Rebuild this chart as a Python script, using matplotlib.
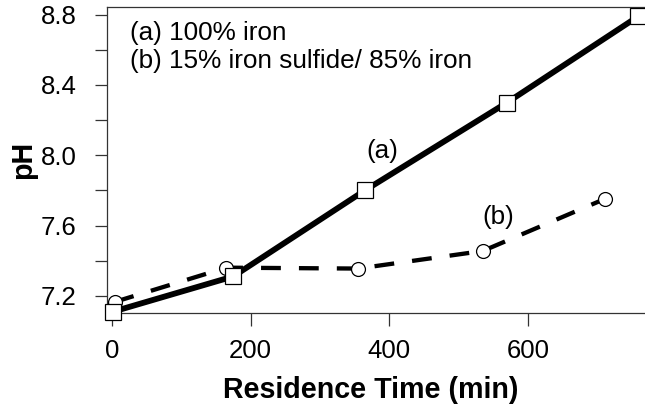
import matplotlib
matplotlib.use("Agg")
import matplotlib.pyplot as plt
from matplotlib.ticker import MultipleLocator

plt.rcParams['font.family'] = ['Liberation Sans', 'DejaVu Sans']

# (a) 100% iron
time_a = [2, 175, 365, 570, 759]
ph_a = [7.11, 7.31, 7.80, 8.30, 8.79]
# (b) 15% iron sulfide / 85% iron
time_b = [4, 165, 355, 535, 712]
ph_b = [7.165, 7.36, 7.355, 7.455, 7.753]

x_ticks = [0, 200, 400, 600]
y_ticks = [7.2, 7.6, 8.0, 8.4, 8.8]

fig = plt.figure(figsize=(6.45, 4.07), dpi=100)
W, H = 645, 407
ax = fig.add_axes([107 / W, (H - 313) / H, (W - 107) / W, (313 - 7) / H])

# dashed curve first so the solid line sits over it
ax.plot(time_b, ph_b, color='black', lw=3.1, dashes=(4.6, 4.2),
        dash_capstyle='butt', marker='o', ms=10, mfc='white',
        mec='black', mew=0.9, clip_on=False, zorder=3)
ax.plot(time_a, ph_a, color='black', lw=4.2, solid_capstyle='butt',
        marker='s', ms=11.5, mfc='white', mec='black', mew=0.9,
        clip_on=False, zorder=4)

ax.set_xlim(-7, 769)
ax.set_ylim(7.102, 8.844)
ax.set_xticks(x_ticks)
ax.set_yticks(y_ticks)
ax.yaxis.set_minor_locator(MultipleLocator(0.2))
ax.set_yticklabels([f"{v:.1f}" for v in y_ticks])

ax.tick_params(axis='both', which='both', direction='out', length=9,
               width=0.9, color='#333333', labelsize=18.5)
ax.tick_params(axis='y', which='major', pad=13)
ax.tick_params(axis='x', which='major', pad=10)

for side in ['left', 'bottom', 'top']:
    ax.spines[side].set_linewidth(0.9)
    ax.spines[side].set_color('#333333')
ax.spines['right'].set_visible(False)

ax.set_xlabel("Residence Time (min)", fontsize=20.6, fontweight='bold', va='center')
ax.xaxis.set_label_coords((371 - 107) / 538, (313 - 390) / 306)
ax.set_ylabel("pH", fontsize=20.6, fontweight='bold', va='center')
ax.yaxis.set_label_coords((23 - 107) / 538, 0.5)

ax.text(26, 8.696, "(a) 100% iron", fontsize=18.8, va='center', ha='left')
ax.text(26, 8.536, "(b) 15% iron sulfide/ 85% iron", fontsize=18.8, va='center', ha='left')
ax.text(390, 8.024, "(a)", fontsize=18.8, va='center', ha='center')
ax.text(557, 7.649, "(b)", fontsize=18.8, va='center', ha='center')

fig.savefig("out.png", dpi=100)
plt.close(fig)
